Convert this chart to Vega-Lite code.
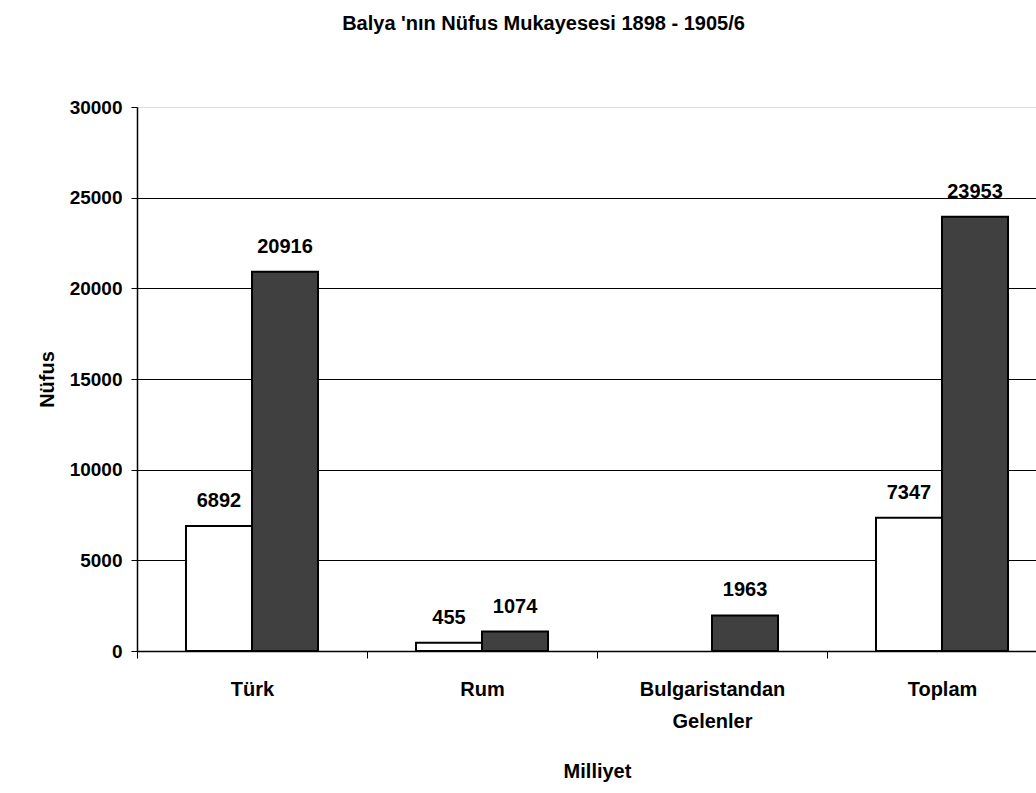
{
  "$schema": "https://vega.github.io/schema/vega-lite/v6.json",
  "autosize": {"type": "none"},
  "padding": {"left": 137, "top": 107, "right": 0, "bottom": 142},
  "width": 899,
  "height": 544,
  "background": "white",
  "title": {
    "text": "Balya 'nın Nüfus Mukayesesi 1898 - 1905/6",
    "font": "Liberation Sans",
    "fontSize": 20,
    "fontWeight": "bold",
    "color": "black",
    "anchor": "middle",
    "frame": "group",
    "dx": -43,
    "offset": 64
  },
  "data": {
    "values": [
      {"Milliyet": "Türk", "Yil": "1898", "Nufus": 6892},
      {"Milliyet": "Türk", "Yil": "1905/6", "Nufus": 20916},
      {"Milliyet": "Rum", "Yil": "1898", "Nufus": 455},
      {"Milliyet": "Rum", "Yil": "1905/6", "Nufus": 1074},
      {"Milliyet": "Bulgaristandan Gelenler", "Yil": "1905/6", "Nufus": 1963},
      {"Milliyet": "Toplam", "Yil": "1898", "Nufus": 7347},
      {"Milliyet": "Toplam", "Yil": "1905/6", "Nufus": 23953}
    ]
  },
  "encoding": {
    "x": {
      "field": "Milliyet",
      "type": "nominal",
      "sort": ["Türk", "Rum", "Bulgaristandan Gelenler", "Toplam"],
      "scale": {"range": [0, 920], "paddingInner": 0, "paddingOuter": 0},
      "axis": {
        "title": "Milliyet",
        "titleFont": "Liberation Sans",
        "titleFontSize": 20,
        "titleFontWeight": "bold",
        "titleColor": "black",
        "titlePadding": 30,
        "titleX": 460,
        "labelFont": "Liberation Sans",
        "labelFontSize": 20,
        "labelFontWeight": "bold",
        "labelColor": "black",
        "labelAngle": 0,
        "labelPadding": 21,
        "labelLineHeight": 32,
        "labelExpr": "datum.value == 'Bulgaristandan Gelenler' ? ['Bulgaristandan', 'Gelenler'] : datum.value",
        "domainColor": "black",
        "domainWidth": 1.5,
        "tickColor": "black",
        "tickSize": 7,
        "tickBand": "extent",
        "grid": false
      }
    },
    "xOffset": {
      "field": "Yil",
      "type": "nominal",
      "scale": {"domain": ["1898", "1905/6"], "paddingInner": 0, "paddingOuter": 0.742}
    },
    "y": {
      "field": "Nufus",
      "type": "quantitative",
      "scale": {"domain": [0, 30000], "nice": false},
      "axis": {
        "title": "Nüfus",
        "titleFont": "Liberation Sans",
        "titleFontSize": 20,
        "titleFontWeight": "bold",
        "titleColor": "black",
        "titlePadding": 12,
        "labelFont": "Liberation Sans",
        "labelFontSize": 19,
        "labelFontWeight": "bold",
        "labelColor": "black",
        "labelPadding": 9,
        "format": "d",
        "values": [0, 5000, 10000, 15000, 20000, 25000, 30000],
        "domainColor": "black",
        "domainWidth": 1.5,
        "tickColor": "black",
        "tickSize": 6,
        "grid": true,
        "gridColor": "black",
        "gridWidth": 1,
        "gridOpacity": {"condition": {"test": "datum.value == 30000 || datum.value == 0", "value": 0}, "value": 1}
      }
    }
  },
  "layer": [
    {
      "mark": {"type": "bar", "strokeWidth": 2, "stroke": "black"},
      "encoding": {
        "fill": {
          "field": "Yil",
          "type": "nominal",
          "scale": {"domain": ["1898", "1905/6"], "range": ["#ffffff", "#404040"]},
          "legend": null
        }
      }
    },
    {
      "mark": {
        "type": "text",
        "baseline": "middle",
        "dy": -25,
        "font": "Liberation Sans",
        "fontSize": 20,
        "fontWeight": "bold",
        "color": "black"
      },
      "encoding": {
        "text": {"field": "Nufus", "type": "quantitative", "format": "d"}
      }
    }
  ]
}
